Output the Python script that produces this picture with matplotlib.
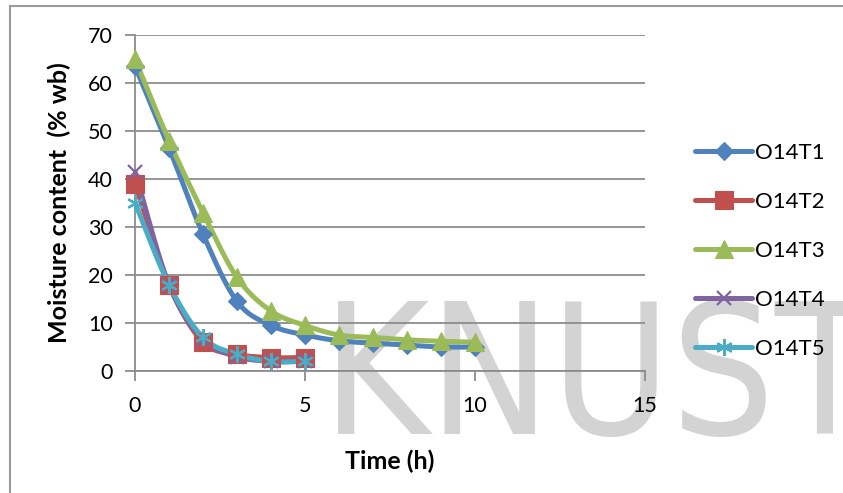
import numpy as np
import matplotlib
matplotlib.use("Agg")
import matplotlib.pyplot as plt
from matplotlib.patches import Rectangle
from matplotlib.lines import Line2D

plt.rcParams['font.family'] = ['Lato', 'DejaVu Sans']

# ---- data ----
time_long = [0, 1, 2, 3, 4, 5, 6, 7, 8, 9, 10]
time_short = [0, 1, 2, 3, 4, 5]
o14t1 = [63.5, 46.5, 28.5, 14.5, 9.5, 7.5, 6.3, 5.8, 5.4, 5.0, 5.0]
o14t3 = [65.0, 48.0, 33.0, 19.5, 12.5, 9.5, 7.5, 7.0, 6.5, 6.2, 6.0]
o14t2 = [39.0, 18.0, 6.0, 3.5, 2.8, 2.8]
o14t4 = [41.5, 18.0, 6.5, 3.0, 2.0, 2.0]
o14t5 = [35.0, 18.0, 7.0, 3.5, 2.0, 2.0]
labels = ["O14T1", "O14T2", "O14T3", "O14T4", "O14T5"]
x_ticks = [0, 5, 10, 15]
y_ticks = [0, 10, 20, 30, 40, 50, 60, 70]

colors = ["#4F81BD", "#C0504D", "#9BBB59", "#8064A2", "#4BACC6"]
markers = ["D", "s", "^", "x", (6, 2, 0)]
msizes = [9, 13, 13, 10, 12]
mews = [0.8, 0.8, 0.8, 1.6, 1.6]


def smooth(x, y, n=20):
    """Catmull-Rom curve through the data points (Excel-style smoothed line)."""
    x = np.asarray(x, float)
    y = np.asarray(y, float)
    px = np.concatenate([[2 * x[0] - x[1]], x, [2 * x[-1] - x[-2]]])
    py = np.concatenate([[2 * y[0] - y[1]], y, [2 * y[-1] - y[-2]]])
    xs, ys = [], []
    t = np.linspace(0, 1, n, endpoint=False)
    for i in range(1, len(px) - 2):
        for arr, pp in ((xs, px), (ys, py)):
            a0, a1, a2, a3 = pp[i - 1], pp[i], pp[i + 1], pp[i + 2]
            arr.extend(0.5 * ((2 * a1) + (-a0 + a2) * t
                              + (2 * a0 - 5 * a1 + 4 * a2 - a3) * t ** 2
                              + (-a0 + 3 * a1 - 3 * a2 + a3) * t ** 3))
    xs.append(x[-1])
    ys.append(y[-1])
    return np.array(xs), np.array(ys)


fig = plt.figure(figsize=(8.43, 4.93), dpi=100)
fig.patch.set_facecolor("white")

# border
fig.add_artist(Rectangle((10 / 843, -0.1), 1.2, (493 - 6) / 493 + 0.1,
                         transform=fig.transFigure, fill=False,
                         edgecolor="#9a9a9a", linewidth=1.5, zorder=0))

# watermark
fig.text(322 / 843, (493 - 434) / 493, "KNUST", fontsize=131, color="#d3d3d3",
         family="DejaVu Sans", fontstretch="condensed", fontweight="normal",
         ha="left", va="baseline", zorder=0.5)

ax = fig.add_axes([135 / 843, 122 / 493, 510 / 843, 336 / 493])
ax.patch.set_alpha(0)
ax.set_zorder(1)

series = [(time_long, o14t1), (time_short, o14t2), (time_long, o14t3),
          (time_short, o14t4), (time_short, o14t5)]
for (xx, yy), c, m, ms, mew in zip(series, colors, markers, msizes, mews):
    sx, sy = smooth(xx, yy)
    ax.plot(sx, sy, color=c, linewidth=3.6, solid_capstyle="round", zorder=3)
    ax.plot(xx, yy, linestyle="none", marker=m, markersize=ms, color=c,
            markeredgecolor=c, markeredgewidth=mew, zorder=4, clip_on=False)

ax.set_xlim(0, 15)
ax.set_ylim(0, 70)
ax.set_xticks(x_ticks)
ax.set_yticks(y_ticks)
ax.yaxis.grid(True, color="#8c8c8c", linewidth=1.3)
ax.set_axisbelow(True)
for s in ["top", "right"]:
    ax.spines[s].set_visible(False)
for s in ["left", "bottom"]:
    ax.spines[s].set_color("#8c8c8c")
    ax.spines[s].set_linewidth(1.3)
ax.tick_params(axis="both", colors="#8c8c8c", labelcolor="black", labelsize=15.5,
               length=7, width=1.3, direction="out")
ax.tick_params(axis="x", pad=11)
ax.tick_params(axis="y", pad=9)

ax.set_xlabel("Time (h)", fontsize=18, fontweight="bold", labelpad=24)
ax.set_ylabel("Moisture content  (% wb)", fontsize=18, fontweight="bold", labelpad=12)

handles = [Line2D([0], [0], color=c, linewidth=3.6, marker=m, markersize=ms,
                  markeredgewidth=mew, solid_capstyle="round")
           for c, m, ms, mew in zip(colors, markers, msizes, mews)]
leg = fig.legend(handles, labels, loc="center left",
                 bbox_to_anchor=(695 / 843, (493 - 251) / 493),
                 frameon=False, fontsize=16, handlelength=2.57,
                 handletextpad=0.15, labelspacing=1.3, numpoints=1,
                 borderaxespad=0, borderpad=0)

fig.savefig("out.png", dpi=100)
